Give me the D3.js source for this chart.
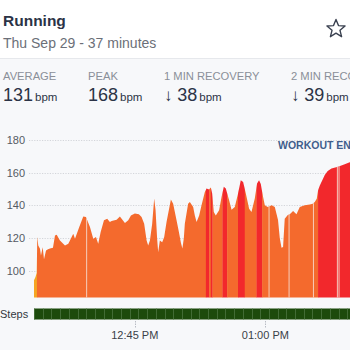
<!DOCTYPE html>
<html><head><meta charset="utf-8">
<script src="https://cdn.jsdelivr.net/npm/d3@7/dist/d3.min.js"></script>
<style>
html,body{margin:0;padding:0;background:#f7f8fa;overflow:hidden;}
svg{display:block;font-family:"Helvetica Neue",Helvetica,"Liberation Sans",Arial,sans-serif;}
</style></head><body>
<script>
// ---------- data ----------
const title = "Running";
const subtitle = "Thu Sep 29 - 37 minutes";
const statLabels = ["AVERAGE", "PEAK", "1 MIN RECOVERY", "2 MIN RECOVERY"];
const statValues = ["131", "168", "38", "39"];
const statArrows = [false, false, true, true];
const startTime = new Date(2022, 8, 29, 12, 33, 25);
const durationMin = 37;
// elapsed minutes and heart rate (bpm)
const hrMinutes = [0,0.17,0.31,0.38,0.49,0.69,0.80,1.00,1.15,1.38,1.61,1.84,2.18,2.41,2.61,2.98,3.56,3.94,4.13,4.51,4.71,5.20,5.66,5.97,6.43,6.81,7.12,7.38,7.66,8.04,8.41,8.72,8.92,9.49,9.87,10.07,10.45,10.83,11.14,11.59,12.05,12.36,12.66,12.94,13.12,13.32,13.58,13.81,13.97,14.15,14.27,14.46,14.73,14.96,15.23,15.73,15.99,16.38,16.65,16.88,17.05,17.22,17.33,17.71,17.91,18.29,18.48,18.68,18.98,19.25,19.63,19.83,20.12,20.32,20.47,20.66,20.89,21.27,21.55,21.81,22.04,22.42,22.70,23.07,23.45,23.76,24.03,24.34,24.72,24.99,25.37,25.63,25.86,26.06,26.29,26.52,26.86,27.32,27.67,28.04,28.24,28.44,28.62,28.81,29.16,29.39,29.77,30.16,30.54,31.11,31.69,32.03,32.26,32.49,32.64,32.83,33.41,33.75,34.18,34.93,35.70,36.28,36.97];
const hrValues = [94,96,98.5,120.5,115.4,113.3,109.2,114.3,107,112.3,113,113.5,114,121.5,122,118.5,115.4,116.4,118.5,122.6,119.5,126.7,133.2,132.8,126.7,119.5,120.5,116.4,123.6,130.8,131.8,129.7,130.3,131.2,133.2,131.8,129.1,130.8,133.8,134.9,134.5,132.8,128.7,118.5,115.4,118.5,128.7,144.1,136.9,119.5,111.3,118.5,117.4,120.5,129.7,143.5,141,130.8,123.6,117,113.5,120,128.7,141,142,139,133.8,129.7,133.8,140,148.2,150.3,149.6,150.9,147.2,135.9,133.8,136.9,145.1,151.3,150.3,143.1,137.3,139,147.2,155.4,154.3,147.2,137.9,135.9,144.1,153.3,155.4,153,146,140,139,140,139,131,120,114,114.5,131.8,134,134.5,136.5,134.5,139,140,140.5,141,142,144,149,152,158.5,161,162.6,163.6,165.2,166.3,168];
// heart-rate zone spans: [start min, end min, zone]
const zoneStarts = [0, 0.34, 19.75, 20.12, 20.32, 20.51, 21.66, 22.19, 23.45, 24.22, 25.57, 26.21, 32.64];
const zoneEnds   = [0.34, 19.75, 20.12, 20.32, 20.51, 21.66, 22.19, 23.45, 24.22, 25.57, 26.21, 32.64, 37];
const zoneNames  = ["warm","cardio","peak","cardio","peak","cardio","peak","cardio","peak","cardio","peak","cardio","peak"];
const zoneColors = {warm:"#f5a623", cardio:"#f46a2d", peak:"#f2282c"};
// missing samples (minutes)
const gapMinutes = [6.05, 27.01, 29.31, 32.11, 34.86, 35.05];
// step blocks (minute bins)
const stepBinStarts = [0,1,2,3,4,5,6,7,8,9,10,11,12,13,14,15,16,17,18,19,20,21,22,23,24,25,26,27,28,29,30,31,32,33,34,35,36];
const yTicks = [100, 120, 140, 160, 180];
const xTickTimes = [new Date(2022, 8, 29, 12, 45), new Date(2022, 8, 29, 13, 0)];

// ---------- drawing ----------
const W = 350, H = 350;
const svg = d3.select("body").append("svg").attr("width", W).attr("height", H);
const toDate = m => new Date(startTime.getTime() + m * 60000);
const defs = svg.append("defs");

// header
svg.append("rect").attr("x",0).attr("y",0).attr("width",W).attr("height",58).attr("fill","#ffffff");
svg.append("line").attr("x1",0).attr("x2",W).attr("y1",58.5).attr("y2",58.5).attr("stroke","#e6e8ec");
svg.append("text").attr("x",3).attr("y",26).attr("font-size",15.5).attr("font-weight","bold").attr("fill","#2b3346").text(title);
svg.append("text").attr("x",3).attr("y",48).attr("font-size",14).attr("fill","#6b6f78").text(subtitle);
// star
const star = d3.range(10).map(i => {
  const r = i % 2 === 0 ? 9.5 : 4.2, a = -Math.PI/2 + i*Math.PI/5;
  return [336 + r*Math.cos(a), 29 + r*Math.sin(a)];
});
svg.append("path").attr("d", d3.line()(star) + "Z").attr("fill","none").attr("stroke","#3a4150").attr("stroke-width",1.4).attr("stroke-linejoin","round");

// stats
const statX = [3, 88, 164, 291];
statLabels.forEach((l, i) => {
  svg.append("text").attr("x", statX[i]).attr("y", 80).attr("font-size", 11.2).attr("fill","#8a8f98").text(l);
  const t = svg.append("text").attr("x", statX[i]).attr("y", 101).attr("fill","#2b3346");
  if (statArrows[i]) t.append("tspan").attr("font-size",17).attr("font-weight","bold").text("\u2193 ");
  t.append("tspan").attr("font-size",18).text(statValues[i]);
  t.append("tspan").attr("font-size",11.5).attr("dx",2).text("bpm");
});

// scales
const x = d3.scaleTime().domain([startTime, toDate(durationMin)]).range([34, 356]);
const y = d3.scaleLinear().domain([83.5, 180]).range([297.5, 140]);

// gridlines + y labels
yTicks.forEach(v => {
  svg.append("line").attr("x1",29).attr("x2",W).attr("y1",Math.round(y(v))+0.5).attr("y2",Math.round(y(v))+0.5)
    .attr("stroke","#c9ccd2").attr("stroke-width",0.8).attr("stroke-dasharray","1.2,1.4");
  svg.append("text").attr("x",25).attr("y",y(v)+4).attr("text-anchor","end").attr("font-size",11).attr("fill","#555a63").text(v);
});

// area by zone
const pts = hrMinutes.map((m, i) => ({t: toDate(m), v: hrValues[i]}));
const area = d3.area().x(d => x(d.t)).y0(y(83.5)).y1(d => y(d.v)).curve(d3.curveLinear);
defs.append("clipPath").attr("id","areaClip").append("path").datum(pts).attr("d", area);
zoneNames.forEach((z, i) => {
  const id = "zc" + i;
  defs.append("clipPath").attr("id", id).append("rect")
    .attr("x", x(toDate(zoneStarts[i]))).attr("y", 0)
    .attr("width", x(toDate(zoneEnds[i])) - x(toDate(zoneStarts[i])) + 0.3).attr("height", H);
  svg.append("path").datum(pts).attr("d", area).attr("fill", zoneColors[z]).attr("clip-path", `url(#${id})`);
});
// gaps (drawn only inside the area)
const gapG = svg.append("g").attr("clip-path","url(#areaClip)");
gapMinutes.forEach(m => {
  gapG.append("line").attr("x1", x(toDate(m))).attr("x2", x(toDate(m))).attr("y1", 130).attr("y2", 298)
    .attr("stroke","#f6d9cc").attr("stroke-width",0.9);
});

svg.append("text").attr("x",278).attr("y",149).attr("font-size",10.5).attr("font-weight","bold").attr("fill","#3f5e8c").text("WORKOUT END");

// steps
svg.append("text").attr("x",0).attr("y",318).attr("font-size",11).attr("fill","#333840").text("Steps");
svg.append("rect").attr("x",34).attr("y",308.5).attr("width",x(toDate(durationMin))-34).attr("height",11).attr("fill","#1c4a0c");
stepBinStarts.forEach(m => {
  const sx = Math.round(x(toDate(m))) + 0.5;
  svg.append("line").attr("x1", sx).attr("x2", sx).attr("y1", 308.5).attr("y2", 319.5)
    .attr("stroke", "#4b7340").attr("stroke-width", 0.8);
});

// x axis
xTickTimes.forEach(t => {
  svg.append("line").attr("x1", Math.round(x(t))+0.5).attr("x2", Math.round(x(t))+0.5).attr("y1",321).attr("y2",328)
    .attr("stroke","#b8bcc4").attr("stroke-dasharray","1.5,1");
  svg.append("text").attr("x", x(t)).attr("y", 339).attr("text-anchor","middle").attr("font-size",11).attr("fill","#3a3f48")
    .text(d3.timeFormat("%I:%M %p")(t));
});
</script>
</body></html>
